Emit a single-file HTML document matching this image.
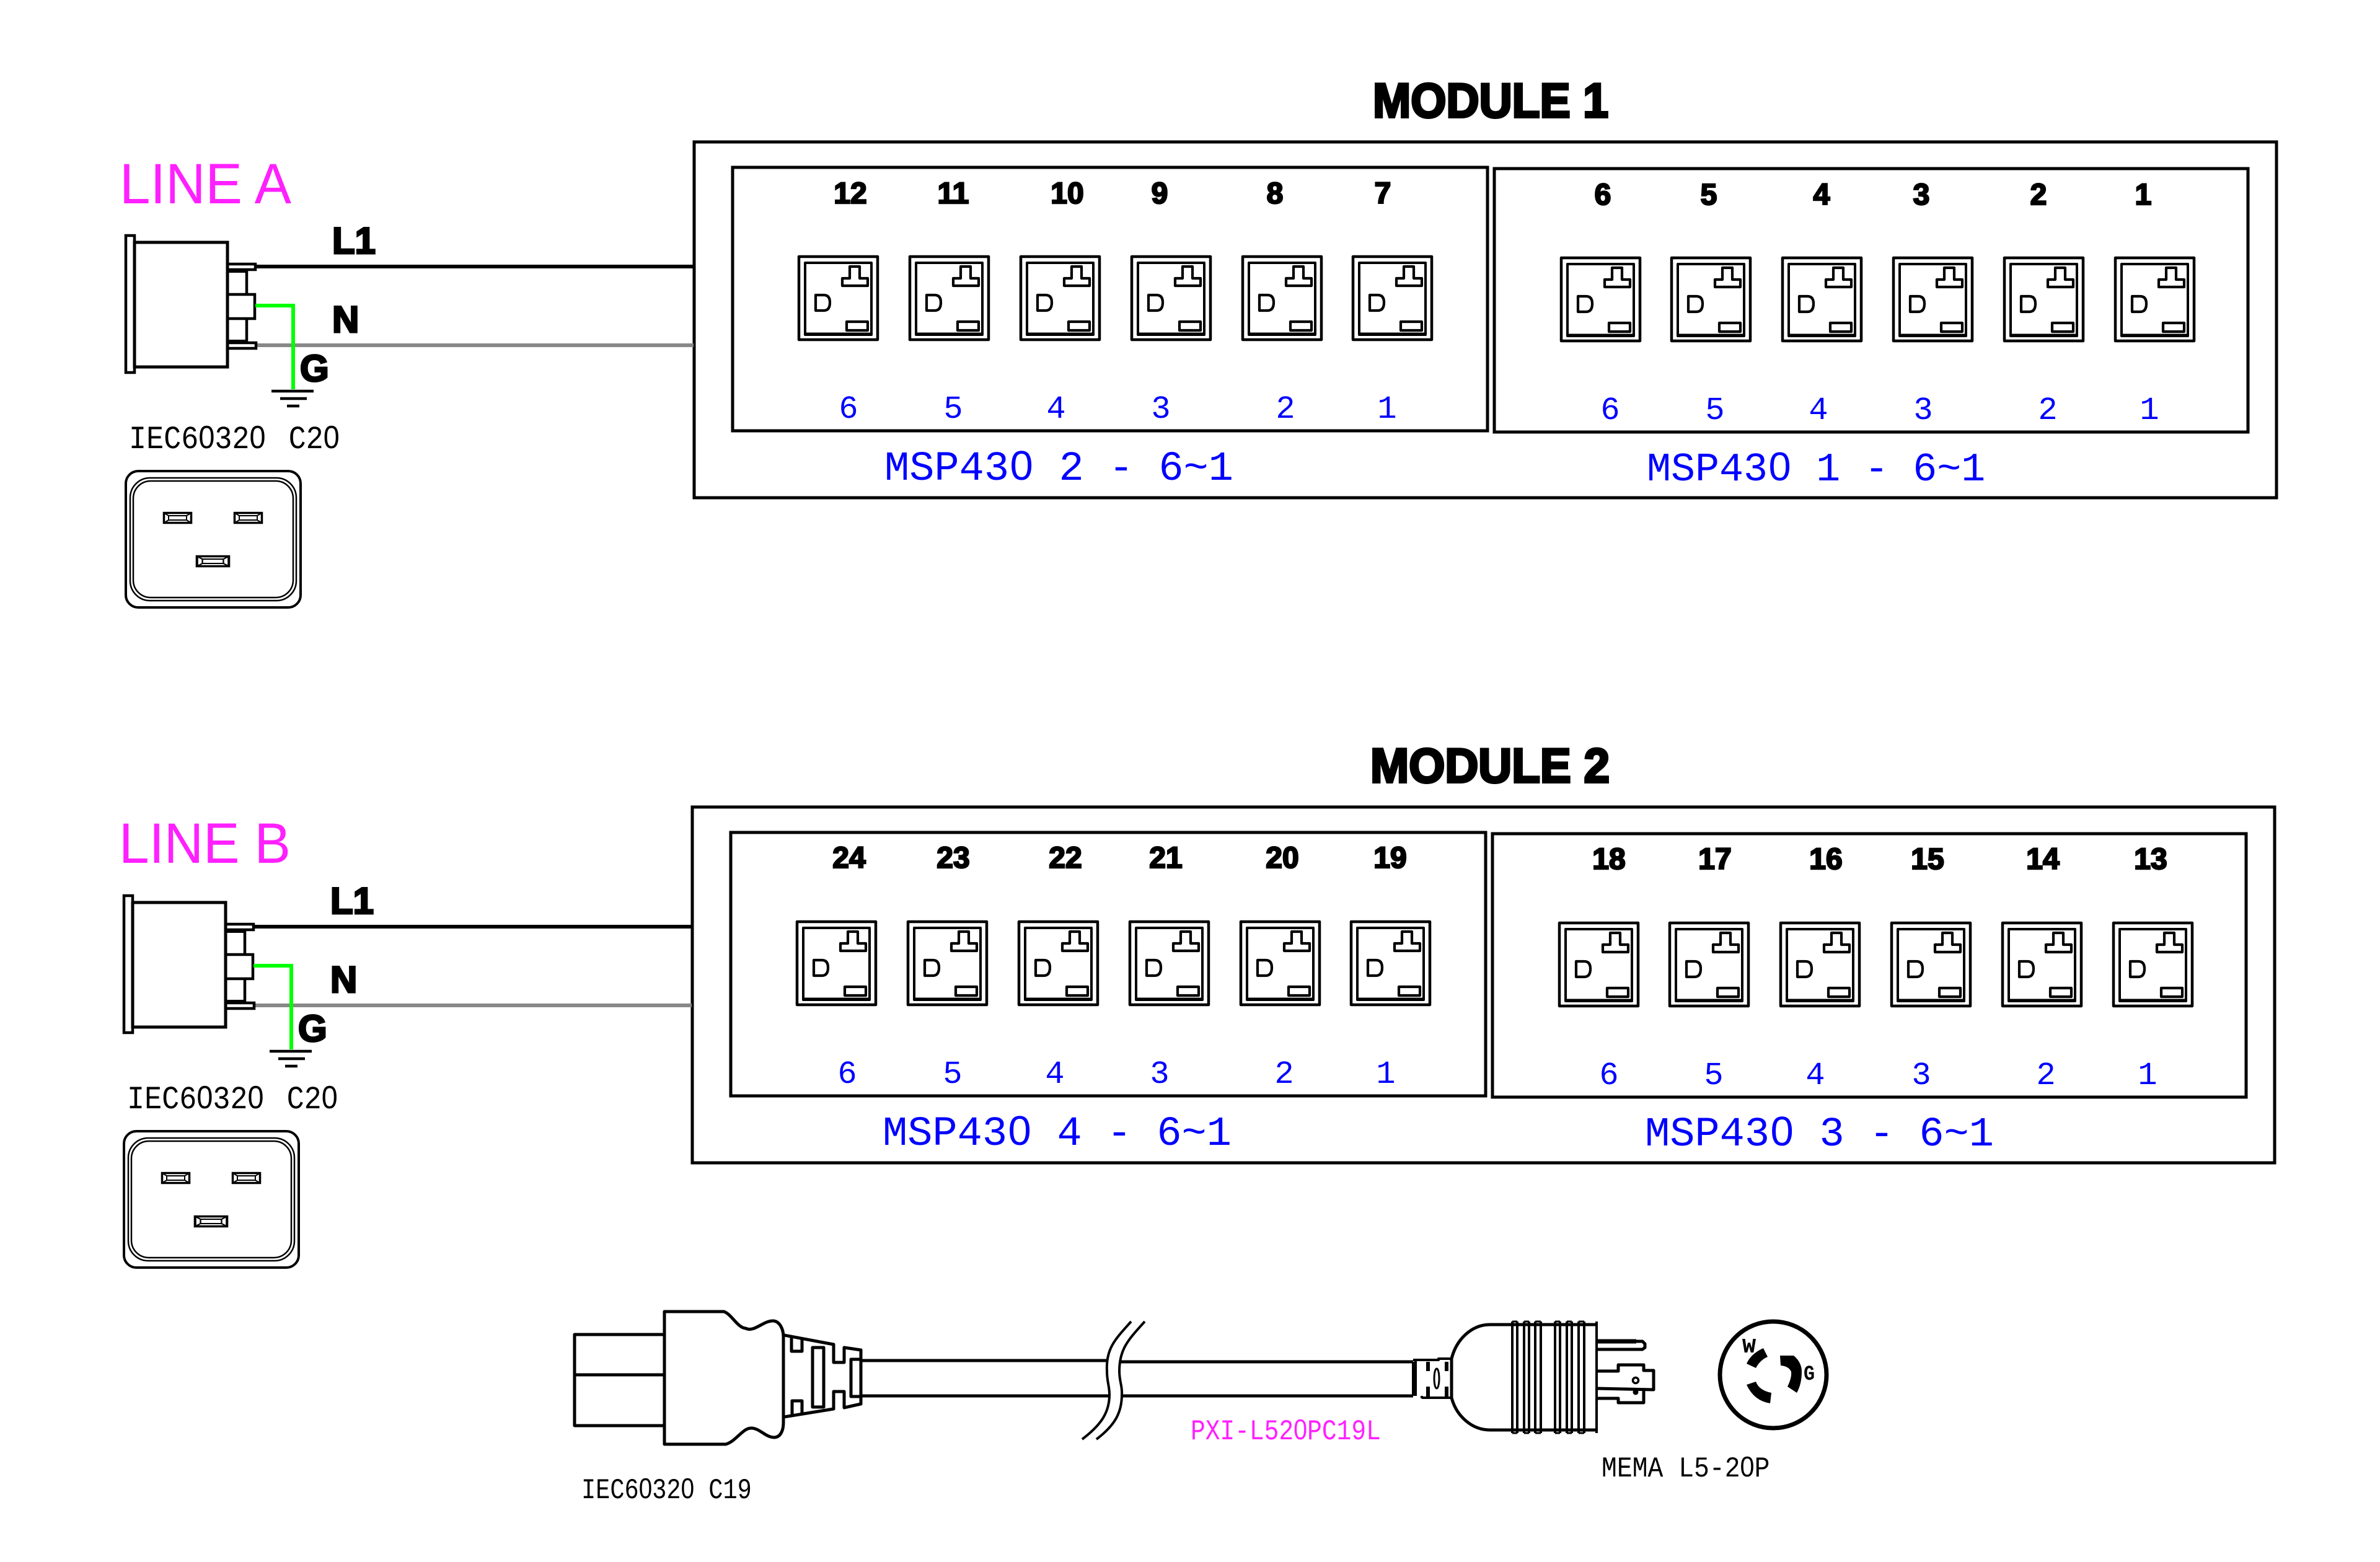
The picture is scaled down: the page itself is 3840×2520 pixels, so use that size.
<!DOCTYPE html>
<html><head><meta charset="utf-8"><title>Module wiring diagram</title>
<style>
html,body{margin:0;padding:0;background:#fff}
svg{display:block}
.b{font-family:"Liberation Sans",sans-serif;font-weight:bold;fill:#000;stroke:#000;text-anchor:middle}
.n{font-size:48px;stroke-width:2.5px}
.l{font-size:60px;stroke-width:3px;text-anchor:start}
.m{font-size:78px;stroke-width:4px}
.c{font-family:"Liberation Mono",monospace;fill:#00f}
.s{font-size:52px;text-anchor:middle}
.t{font-size:67px}
.k{font-family:"Liberation Mono",monospace;fill:#000}
.z{font-family:"Liberation Sans",sans-serif}
.p{font-family:"Liberation Sans",sans-serif;fill:#ff20ff;font-size:92px}
</style></head><body>
<svg xmlns="http://www.w3.org/2000/svg" width="3840" height="2520" viewBox="0 0 3840 2520">
<defs>
<g id="sock" fill="none" stroke="#000" stroke-linejoin="round">
<rect x="2" y="2" width="127" height="134" stroke-width="4.5" fill="#fff"/>
<rect x="12" y="12" width="107" height="116" stroke-width="4"/>
<path d="M12 127H119" stroke-width="5"/>
<path d="M84 18H100V37H113V49H72V37H84Z" stroke-width="4.2"/>
<path d="M29 64H42Q52 64 52 76Q52 89 42 89H29Z" stroke-width="4.2"/>
<rect x="79" y="107" width="34" height="14" stroke-width="4.2"/>
</g>
<g id="slot" fill="none" stroke="#000">
<rect x="1.5" y="1.5" width="44" height="16" stroke-width="3.5"/>
<path d="M1.5 1.5L9 6H38L45.5 1.5M1.5 17.5L9 13H38L45.5 17.5M9 6V13M38 6V13" stroke-width="2"/>
</g>
<g id="mod" fill="none" stroke="#000">
<rect x="1120" y="229" width="2553" height="574" stroke-width="5"/>
<rect x="1182" y="270" width="1218" height="425" stroke-width="5"/>
<rect x="2411" y="272" width="1216" height="425" stroke-width="5"/>
<use href="#sock" x="1287" y="412"/><use href="#sock" x="1466" y="412"/><use href="#sock" x="1645" y="412"/>
<use href="#sock" x="1824" y="412"/><use href="#sock" x="2003" y="412"/><use href="#sock" x="2181" y="412"/>
<use href="#sock" x="2517" y="414"/><use href="#sock" x="2695" y="414"/><use href="#sock" x="2874" y="414"/>
<use href="#sock" x="3053" y="414"/><use href="#sock" x="3232" y="414"/><use href="#sock" x="3411" y="414"/>
</g>
<g id="conn" fill="none" stroke="#000" stroke-width="5">
<path d="M413 430H1119" stroke-width="6"/>
<path d="M415 557H1119" stroke="#888" stroke-width="6"/>
<rect x="203" y="380" width="14" height="221" stroke-width="4.5"/>
<rect x="217" y="391" width="150" height="201"/>
<rect x="367" y="426" width="45" height="9" stroke-width="4.5"/>
<path d="M367 437H398" stroke-width="6"/>
<path d="M398 436V475M398 514V552" stroke-width="4.5"/>
<rect x="367" y="475" width="44" height="39" stroke-width="4.5"/>
<path d="M367 551H398" stroke-width="6"/>
<rect x="367" y="553" width="46" height="9" stroke-width="4.5"/>
<path d="M412 493H473V628" stroke="#0f0" stroke-width="6"/>
<path d="M438 631H506M452 643H495M463 655H483" stroke-width="4.5"/>
<rect x="203" y="760" width="282" height="220" rx="20" stroke-width="4"/>
<rect x="210" y="771" width="268" height="198" rx="32" stroke-width="2.5"/>
<rect x="215" y="776" width="258" height="188" rx="28" stroke-width="2.5"/>
<use href="#slot" x="263" y="826"/><use href="#slot" x="377" y="826"/>
<g transform="translate(316 896) scale(1.17 1)"><use href="#slot"/></g>
</g>
</defs>
<rect width="3840" height="2520" fill="#fff"/>

<use href="#mod"/>
<use href="#mod" transform="translate(-3 1073)"/>
<use href="#conn"/>
<use href="#conn" transform="translate(-3 1065)"/>

<!-- Titles -->
<text class="b m" x="2405" y="189" textLength="380" lengthAdjust="spacingAndGlyphs">MODULE 1</text>
<text class="b m" x="2404" y="1262" textLength="386" lengthAdjust="spacingAndGlyphs">MODULE 2</text>

<!-- Line labels -->
<text class="p" x="193" y="328" textLength="277" lengthAdjust="spacingAndGlyphs">LINE A</text>
<text class="p" x="192" y="1392" textLength="277" lengthAdjust="spacingAndGlyphs">LINE B</text>
<text class="b l" x="536" y="409">L1</text><text class="b l" x="536" y="536">N</text><text class="b l" x="484" y="615">G</text>
<text class="b l" x="533" y="1474">L1</text><text class="b l" x="533" y="1601">N</text><text class="b l" x="481" y="1680">G</text>
<text class="k" font-size="52" transform="translate(208 723) scale(.9 1)">IEC6<tspan class="z">0</tspan>32<tspan class="z">0</tspan><tspan dx="10"> C2</tspan><tspan class="z">0</tspan></text>
<text class="k" font-size="52" transform="translate(205 1788) scale(.9 1)">IEC6<tspan class="z">0</tspan>32<tspan class="z">0</tspan><tspan dx="10"> C2</tspan><tspan class="z">0</tspan></text>

<!-- Black numbers -->
<g class="b n">
<text x="1372" y="328">12</text><text x="1538" y="328">11</text><text x="1722" y="328">10</text><text x="1871" y="328">9</text><text x="2057" y="328">8</text><text x="2231" y="328">7</text>
<text x="2586" y="330">6</text><text x="2757" y="330">5</text><text x="2939" y="330">4</text><text x="3100" y="330">3</text><text x="3289" y="330">2</text><text x="3458" y="330">1</text>
<text x="1370" y="1400">24</text><text x="1538" y="1400">23</text><text x="1719" y="1400">22</text><text x="1881" y="1400">21</text><text x="2069" y="1400">20</text><text x="2243" y="1400">19</text>
<text x="2596" y="1402">18</text><text x="2767" y="1402">17</text><text x="2946" y="1402">16</text><text x="3110" y="1402">15</text><text x="3296" y="1402">14</text><text x="3470" y="1402">13</text>
</g>

<!-- Blue numbers -->
<g class="c s">
<text x="1369" y="674">6</text><text x="1538" y="674">5</text><text x="1704" y="674">4</text><text x="1873" y="674">3</text><text x="2074" y="674">2</text><text x="2238" y="674">1</text>
<text x="2598" y="676">6</text><text x="2767" y="676">5</text><text x="2934" y="676">4</text><text x="3103" y="676">3</text><text x="3304" y="676">2</text><text x="3468" y="676">1</text>
<text x="1367" y="1747">6</text><text x="1537" y="1747">5</text><text x="1702" y="1747">4</text><text x="1871" y="1747">3</text><text x="2072" y="1747">2</text><text x="2236" y="1747">1</text>
<text x="2596" y="1749">6</text><text x="2765" y="1749">5</text><text x="2929" y="1749">4</text><text x="3100" y="1749">3</text><text x="3301" y="1749">2</text><text x="3465" y="1749">1</text>
</g>
<g class="c t">
<text x="1427" y="774" xml:space="preserve" style="white-space:pre">MSP43<tspan class="z" dx="1.5">0</tspan><tspan dx="1.5"> 2 - 6~1</tspan></text>
<text x="2657" y="775" font-size="65" style="font-size:65px;white-space:pre" xml:space="preserve">MSP43<tspan class="z" dx="1.5">0</tspan><tspan dx="1.5"> 1 - 6~1</tspan></text>
<text x="1424" y="1847" xml:space="preserve" style="white-space:pre">MSP43<tspan class="z" dx="1.5">0</tspan><tspan dx="1.5"> 4 - 6~1</tspan></text>
<text x="2654" y="1848" xml:space="preserve" style="white-space:pre">MSP43<tspan class="z" dx="1.5">0</tspan><tspan dx="1.5"> 3 - 6~1</tspan></text>
</g>

<!-- Cable: C19 end -->
<g fill="none" stroke="#000" stroke-width="5" stroke-linejoin="round">
<path d="M1072 2153H927V2300H1072M927 2218H1072"/>
<path d="M1072 2116H1168C1180 2120 1190 2142 1203 2143C1217 2150 1232 2130 1248 2131C1258 2132 1264 2144 1264 2157V2295C1264 2310 1258 2319 1249 2319C1235 2319 1226 2304 1212 2304C1198 2304 1188 2325 1171 2330H1072Z"/>
<path d="M1265 2154L1345 2169V2198H1362V2174L1389 2178V2265L1362 2271V2245H1345V2273L1265 2286"/>
<path d="M1277 2158V2180H1294V2160M1278 2282V2260H1294V2280"/>
<rect x="1311" y="2174" width="18" height="96"/>
<rect x="1373" y="2193" width="16" height="60"/>
<path d="M1389 2195H1785M1389 2252H1790M1807 2197H2280M1810 2252H2280"/>
<path d="M1825 2132C1800 2160 1784 2175 1786 2212C1786 2230 1790 2235 1790 2250C1790 2280 1775 2300 1746 2322" stroke-width="4"/>
<path d="M1847 2132C1822 2160 1806 2175 1806 2212C1806 2230 1811 2235 1810 2250C1810 2280 1798 2300 1769 2322" stroke-width="4"/>
</g>

<!-- Cable: L5-20 plug -->
<g fill="none" stroke="#000" stroke-width="5" stroke-linejoin="round">
<path d="M2280 2194H2321V2192H2342M2280 2197V2252M2294 2255H2342M2284 2194V2252M2294 2252V2256" stroke-width="4"/>
<path d="M2304 2197V2212M2304 2237V2255M2334 2197V2212M2334 2237V2255" stroke-width="6"/>
<ellipse cx="2318" cy="2224" rx="4" ry="16" stroke-width="3"/>
<path d="M2342 2192V2255M2342 2192C2350 2160 2375 2137 2404 2137H2440M2342 2255C2350 2285 2375 2307 2404 2307H2440"/>
<path d="M2440 2137H2576M2440 2307H2576"/>
<path d="M2440 2132V2312M2448 2132V2312M2459 2132V2312M2467 2132V2312M2477 2132V2312M2486 2132V2312M2509 2132V2312M2517 2132V2312M2528 2132V2312M2536 2132V2312M2547 2132V2312M2556 2132V2312M2576 2132V2312" stroke-width="4"/>
<path d="M2440 2132H2448M2459 2132H2467M2477 2132H2486M2509 2132H2517M2528 2132H2536M2547 2132H2556M2440 2312H2448M2459 2312H2467M2477 2312H2486M2509 2312H2517M2528 2312H2536M2547 2312H2556" stroke-width="3"/>
<path d="M2577 2164H2650L2654 2168V2174L2650 2177H2577" stroke-width="5"/>
<path d="M2577 2164H2640" stroke-width="7"/>
<path d="M2577 2212H2611V2202H2652V2211H2668V2242L2577 2240M2652 2242V2263H2611V2256H2577"/>
<ellipse cx="2861" cy="2218" rx="86" ry="86" stroke-width="7"/>
</g>
<circle cx="2639" cy="2227" r="4.5" fill="none" stroke="#000" stroke-width="3.5"/>
<circle cx="2639" cy="2246" r="4.5" fill="#000"/>
<g fill="#000">
<path d="M2845 2175L2852 2189Q2840 2194 2833 2207L2818 2200Q2825 2184 2845 2175Z"/>
<path d="M2872 2187H2894Q2907 2198 2907 2213Q2907 2233 2899 2247L2884 2237Q2891 2223 2890 2213Q2886 2204 2873 2203Z"/>
<path d="M2833 2229Q2838 2243 2858 2247L2856 2264Q2830 2260 2818 2234Z"/>
</g>
<text class="k" font-size="33" font-weight="bold" x="2811" y="2182" textLength="22" lengthAdjust="spacingAndGlyphs">W</text>
<text class="k" font-size="34" font-weight="bold" x="2910" y="2226" textLength="18" lengthAdjust="spacingAndGlyphs">G</text>

<text class="k" font-size="46" transform="translate(938 2417) scale(.84 1)">IEC6<tspan class="z">0</tspan>32<tspan class="z">0</tspan> C19</text>
<text font-family="Liberation Mono, monospace" fill="#ff20ff" font-size="46" transform="translate(1921 2322) scale(.86 1)">PXI-L52<tspan class="z">0</tspan>PC19L</text>
<text class="k" font-size="46" transform="translate(2584 2382) scale(.9 1)">MEMA L5-2<tspan class="z">0</tspan>P</text>
</svg>
</body></html>
